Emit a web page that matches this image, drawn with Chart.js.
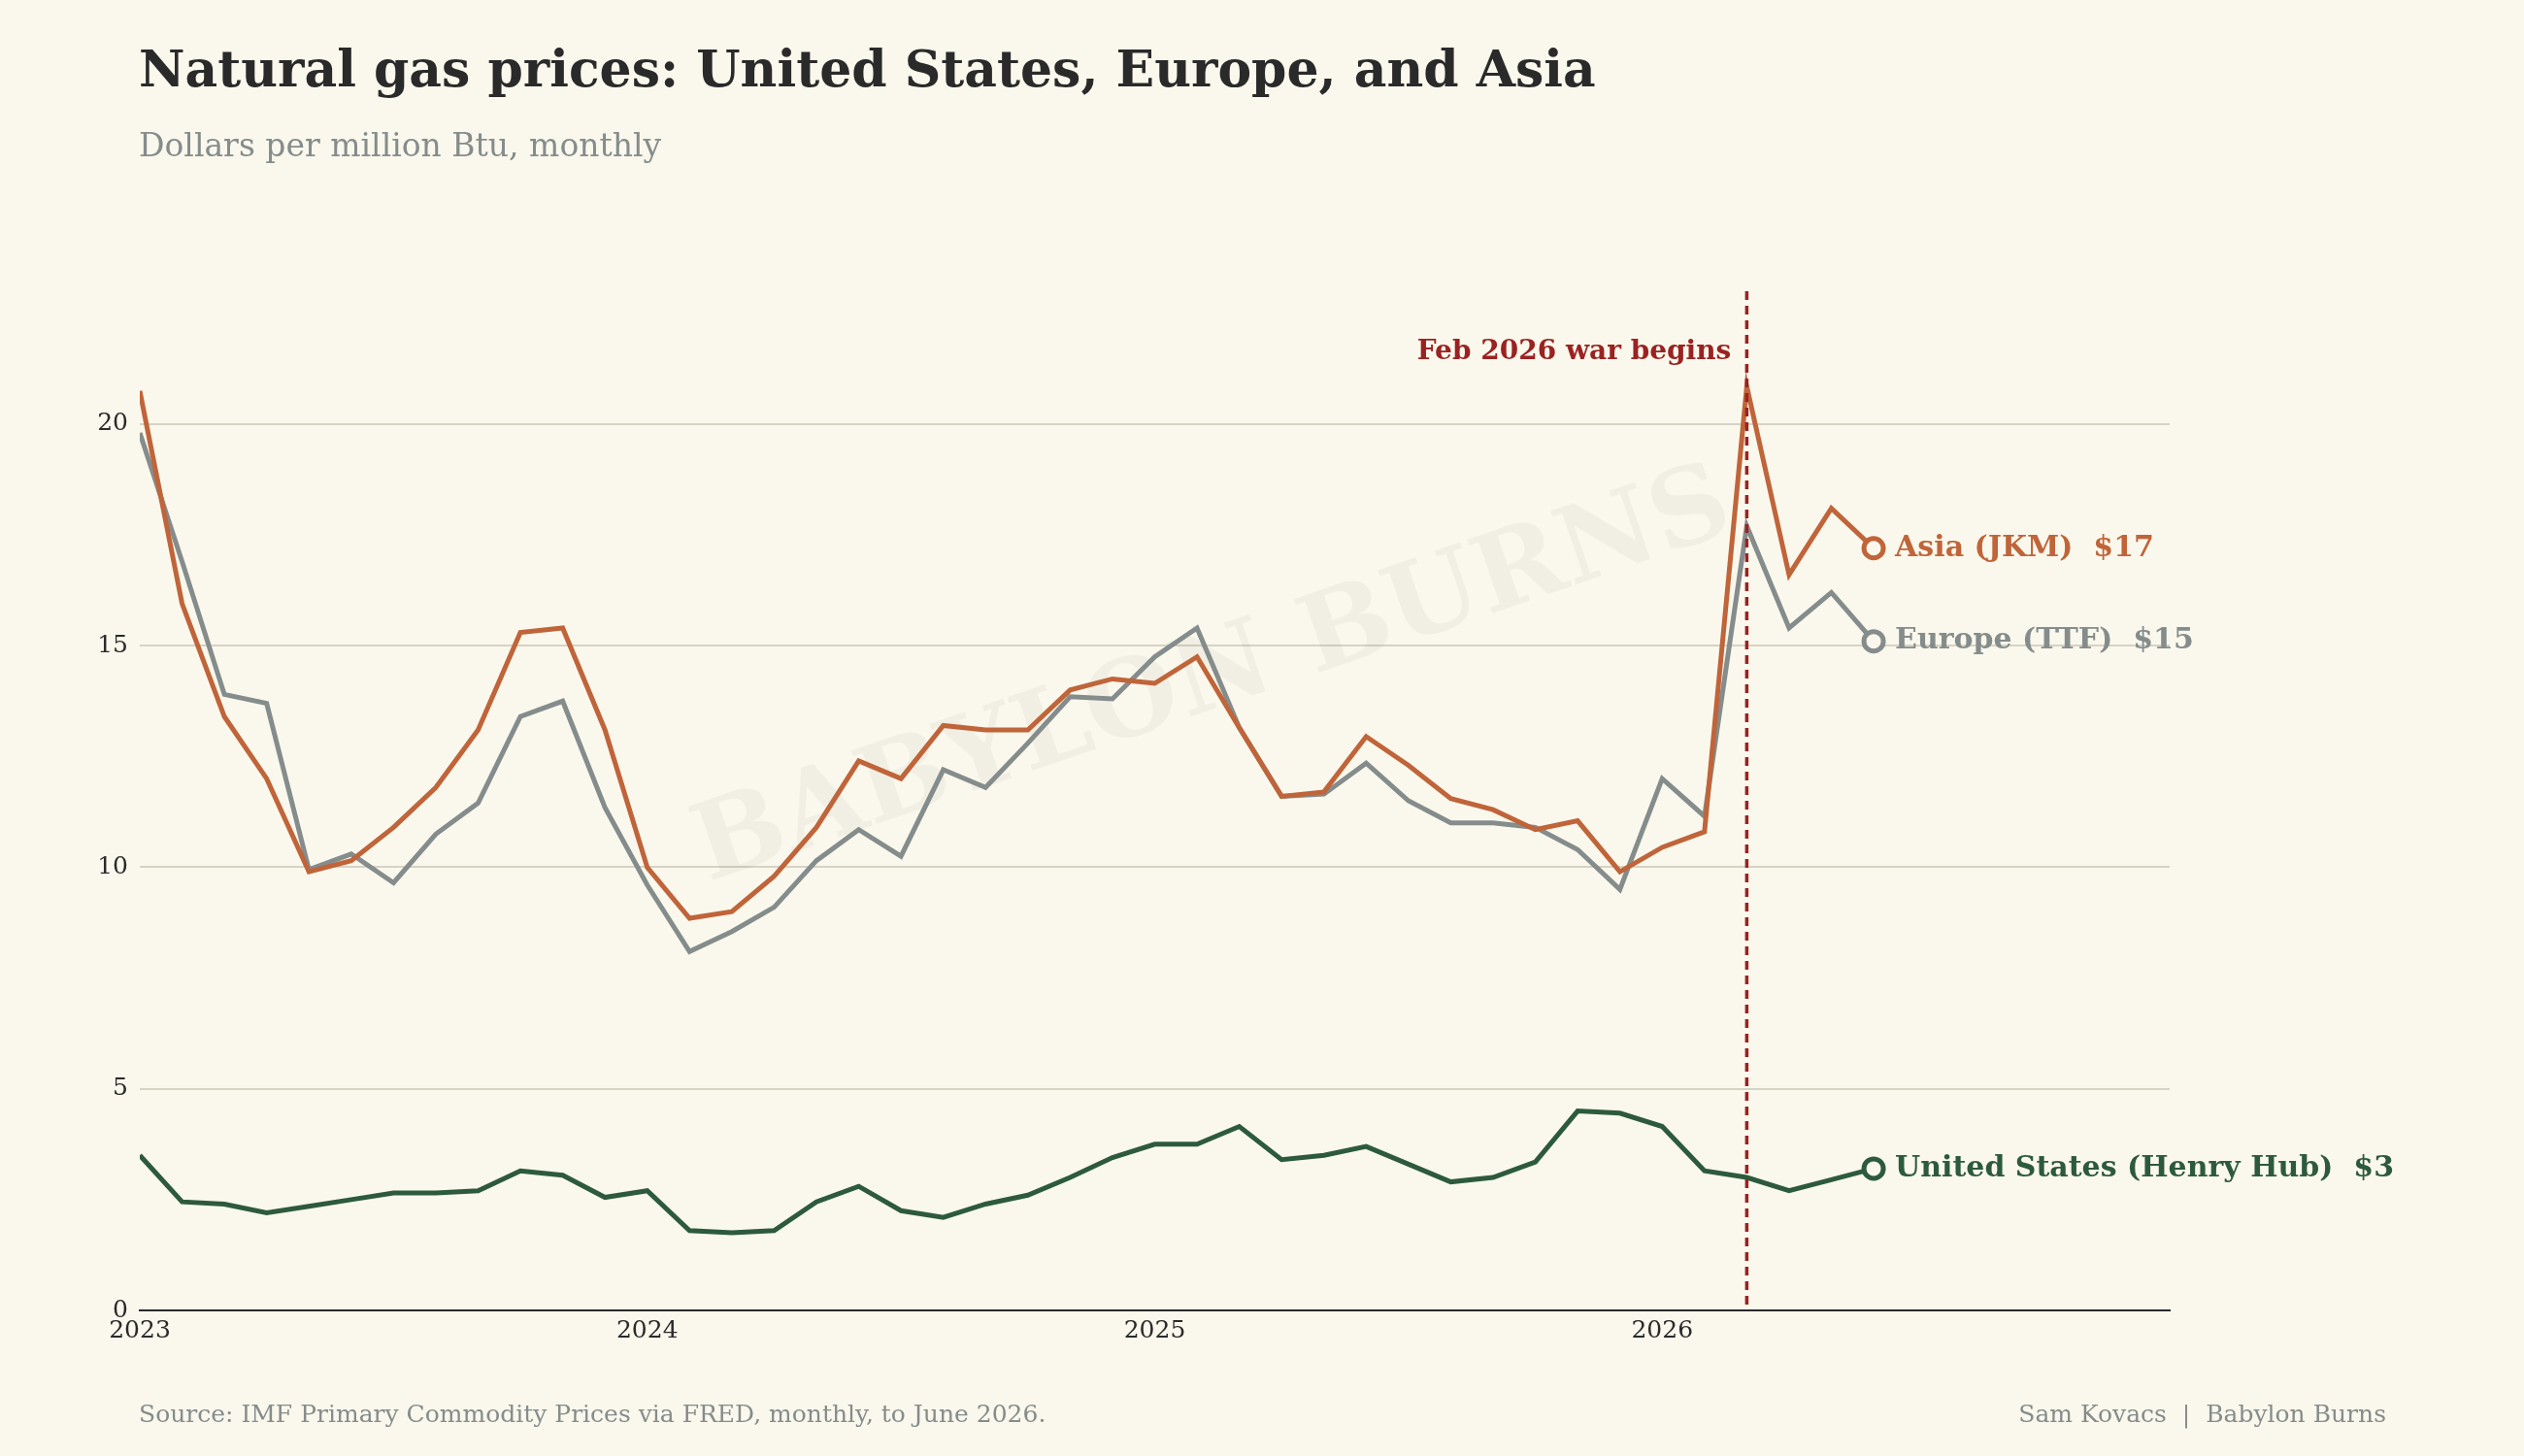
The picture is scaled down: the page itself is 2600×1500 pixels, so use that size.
<!DOCTYPE html>
<html>
<head>
<meta charset="utf-8">
<script src="https://cdn.jsdelivr.net/npm/chart.js@4.4.1/dist/chart.umd.min.js"></script>
<style>
  body { margin: 0; background: #faf8ec; font-family: "DejaVu Serif", serif; }
  #wrap { position: absolute; left: 0; top: 0; width: 2600px; height: 1500px; }
  .t { position: absolute; white-space: nowrap; }
</style>
</head>
<body>
<div id="wrap"><canvas id="c" width="2600" height="1500"></canvas></div>
<div class="t" style="left:143px;top:40px;font-size:52px;font-weight:bold;color:#2a2a2a;">Natural gas prices: United States, Europe, and Asia</div>
<div class="t" style="left:143px;top:130px;font-size:33px;color:#858c8c;">Dollars per million Btu, monthly</div>
<div class="t" style="left:143px;top:1442px;font-size:25px;color:#858c8c;">Source: IMF Primary Commodity Prices via FRED, monthly, to June 2026.</div>
<div class="t" style="right:142px;top:1442px;font-size:25px;color:#858c8c;">Sam Kovacs &nbsp;|&nbsp; Babylon Burns</div>
<script>
// months since Jan 2023
const asia = [20.75,15.95,13.4,12.0,9.9,10.15,10.9,11.8,13.1,15.3,15.4,13.1,
  10.0,8.85,9.0,9.8,10.9,12.4,12.0,13.2,13.1,13.1,14.0,14.25,
  14.15,14.75,13.15,11.6,11.7,12.95,12.3,11.55,11.3,10.85,11.05,9.9,
  10.45,10.8,20.85,16.6,18.1,17.2];
const europe = [19.8,16.9,13.9,13.7,9.95,10.3,9.65,10.75,11.45,13.4,13.75,11.35,
  9.6,8.1,8.55,9.1,10.15,10.85,10.25,12.2,11.8,12.8,13.85,13.8,
  14.75,15.4,13.15,11.6,11.65,12.35,11.5,11.0,11.0,10.9,10.4,9.5,
  12.0,11.15,17.7,15.4,16.2,15.1];
const us = [3.5,2.45,2.4,2.2,2.35,2.5,2.65,2.65,2.7,3.15,3.05,2.55,
  2.7,1.8,1.75,1.8,2.45,2.8,2.25,2.1,2.4,2.6,3.0,3.45,
  3.75,3.75,4.15,3.4,3.5,3.7,3.3,2.9,3.0,3.35,4.5,4.45,
  4.15,3.15,3.0,2.7,2.95,3.2];
const yearTicks = {0: '2023', 12: '2024', 24: '2025', 36: '2026'};
const warMonth = 38;
const endLabels = ['Asia (JKM)  $17', 'Europe (TTF)  $15', 'United States (Henry Hub)  $3'];

const bg = '#faf8ec';
const colors = ['#c0643a', '#858c8c', '#2d5a3d'];

function toXY(arr) { return arr.map((v, i) => ({x: i, y: v})); }

function mkSet(arr, color) {
  const last = arr.length - 1;
  return {
    data: toXY(arr), borderColor: color, borderWidth: 5, tension: 0,
    pointRadius: c => c.dataIndex === last ? 10 : 0,
    pointBorderWidth: 5, pointBackgroundColor: bg, pointBorderColor: color
  };
}

const extras = {
  id: 'extras',
  beforeDatasetsDraw(chart) {
    const {ctx, chartArea, scales} = chart;
    ctx.save();
    ctx.translate(1250, 700);
    ctx.rotate(-0.33);
    ctx.font = 'bold 110px "DejaVu Serif"';
    ctx.fillStyle = 'rgba(0,0,0,0.035)';
    ctx.textAlign = 'center';
    ctx.textBaseline = 'middle';
    ctx.fillText('BABYLON BURNS', 0, 0);
    ctx.restore();
  },
  afterDatasetsDraw(chart) {
    const {ctx, chartArea, scales} = chart;
    const x = scales.x.getPixelForValue(warMonth);
    ctx.save();
    ctx.strokeStyle = '#9b2222';
    ctx.lineWidth = 3.5;
    ctx.setLineDash([9, 6]);
    ctx.beginPath();
    ctx.moveTo(x, chartArea.top);
    ctx.lineTo(x, chartArea.bottom);
    ctx.stroke();
    ctx.setLineDash([]);
    ctx.fillStyle = '#9b2222';
    ctx.font = 'bold 28px "DejaVu Serif"';
    ctx.textAlign = 'right';
    ctx.textBaseline = 'middle';
    ctx.fillText('Feb 2026 war begins', x - 16, 363);
    // end labels
    ctx.font = 'bold 30px "DejaVu Serif"';
    ctx.textAlign = 'left';
    [asia, europe, us].forEach((arr, k) => {
      const i = arr.length - 1;
      ctx.fillStyle = colors[k];
      ctx.fillText(endLabels[k], scales.x.getPixelForValue(i) + 22, scales.y.getPixelForValue(arr[i]));
    });
    ctx.restore();
  }
};

new Chart(document.getElementById('c'), {
  type: 'line',
  data: { datasets: [mkSet(asia, colors[0]), mkSet(europe, colors[1]), mkSet(us, colors[2])] },
  plugins: [extras],
  options: {
    responsive: false, animation: false,
    layout: { padding: { left: 84, right: 365, top: 300, bottom: 110 } },
    plugins: { legend: { display: false }, tooltip: { enabled: false } },
    scales: {
      x: {
        type: 'linear', min: 0, max: 48,
        afterFit: s => { s.height = 40; },
        grid: { display: false, drawTicks: false },
        border: { color: '#2a2a2a', width: 2 },
        ticks: {
          stepSize: 12, color: '#2a2a2a', padding: 6,
          font: { family: 'DejaVu Serif', size: 25 },
          callback: v => yearTicks[v] || ''
        }
      },
      y: {
        min: 0, max: 23,
        afterFit: s => { s.width = 60; },
        afterBuildTicks: s => { s.ticks = [0, 5, 10, 15, 20].map(v => ({value: v})); },
        grid: { color: '#d6d3c4', lineWidth: 2, drawTicks: false },
        border: { display: false },
        ticks: {
          color: '#2a2a2a', padding: 12,
          font: { family: 'DejaVu Serif', size: 25 }
        }
      }
    }
  }
});
</script>
</body>
</html>
